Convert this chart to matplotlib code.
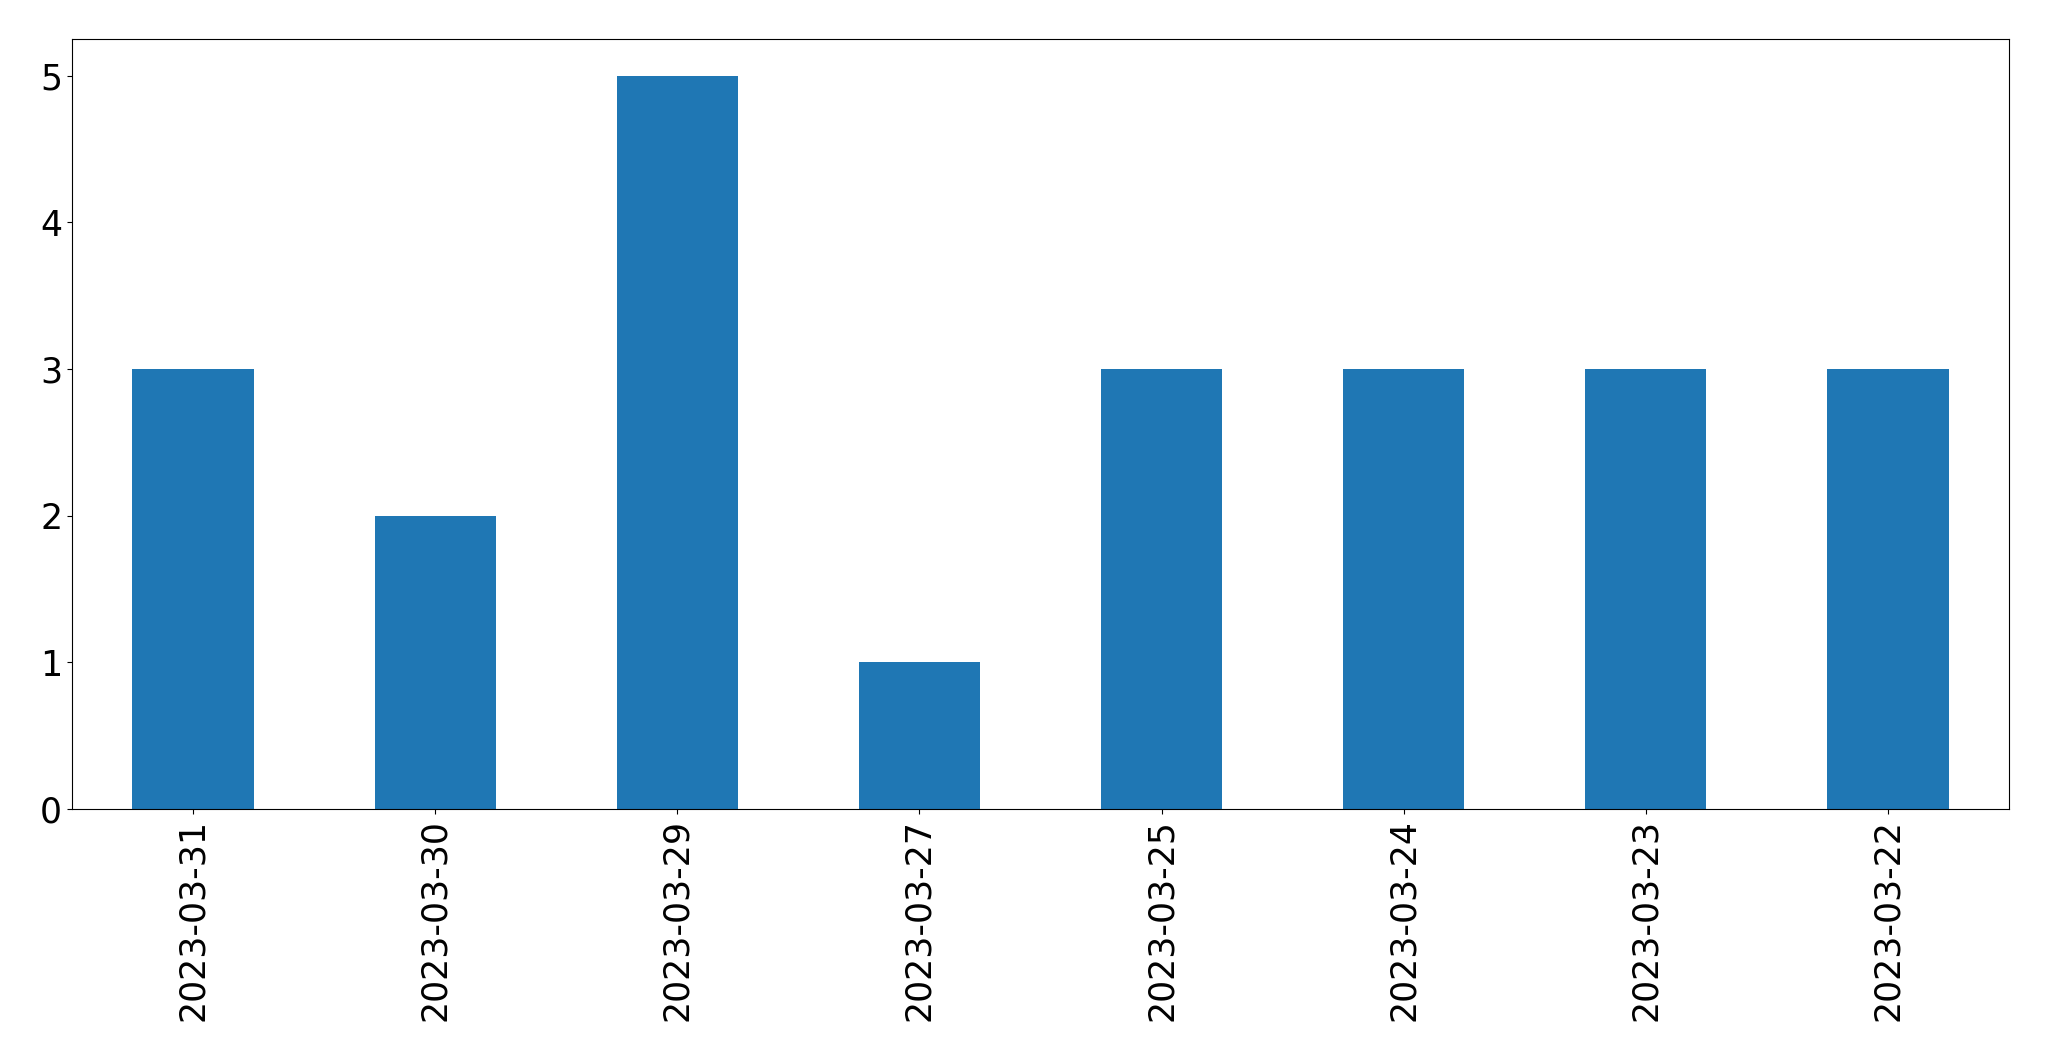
import matplotlib
matplotlib.use("Agg")
import matplotlib.pyplot as plt

dates = ["2023-03-31", "2023-03-30", "2023-03-29", "2023-03-27",
         "2023-03-25", "2023-03-24", "2023-03-23", "2023-03-22"]
counts = [3, 2, 5, 1, 3, 3, 3, 3]

fig = plt.figure(figsize=(20.49, 10.61), dpi=100)
ax = fig.add_axes([0.0351, 0.2375, 0.9805 - 0.0351, 0.9632 - 0.2375])
x = list(range(len(dates)))
ax.bar(x, counts, width=0.5, color="#1f77b4")
ax.set_xlim(-0.5, len(dates) - 0.5)
ax.set_ylim(0, 5.25)
ax.set_xticks(x)
ax.set_xticklabels(dates, rotation=90)
ax.tick_params(axis="both", labelsize=25)
fig.savefig("out.png", dpi=100)
